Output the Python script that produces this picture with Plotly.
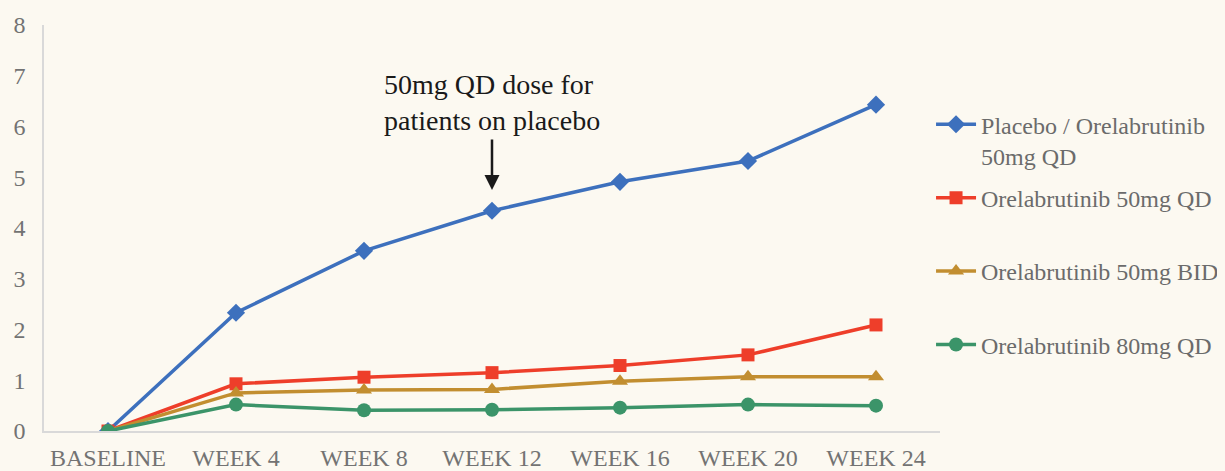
import plotly.graph_objects as go

categories = ["BASELINE", "WEEK 4", "WEEK 8", "WEEK 12", "WEEK 16", "WEEK 20", "WEEK 24"]
placebo_orela = [0, 2.33, 3.55, 4.34, 4.91, 5.32, 6.43]
orela_50_qd = [0, 0.93, 1.06, 1.15, 1.29, 1.50, 2.09]
orela_50_bid = [0, 0.75, 0.81, 0.82, 0.98, 1.07, 1.07]
orela_80_qd = [0, 0.52, 0.41, 0.42, 0.46, 0.52, 0.50]

series = [
    ("Placebo / Orelabrutinib<br>50mg QD", placebo_orela, "#3d70bd", "diamond", 14),
    ("Orelabrutinib 50mg QD<br> ", orela_50_qd, "#ee3e2a", "square", 13),
    ("Orelabrutinib 50mg BID<br> ", orela_50_bid, "#c28e30", "triangle-up", 14),
    ("Orelabrutinib 80mg QD<br> ", orela_80_qd, "#3b9469", "circle", 14),
]

fig = go.Figure()
for i, (name, vals, color, sym, size) in enumerate(series):
    fig.add_trace(go.Scatter(
        x=categories, y=vals, name=name, mode="lines+markers",
        line=dict(color=color, width=3.5),
        marker=dict(symbol=sym, size=size, color=color),
        legendgroup=str(i),
    ))

font_family = "Liberation Serif"

fig.add_annotation(
    x="WEEK 12", y=4.75, xref="x", yref="y",
    ax=0, ay=-52, axref="pixel", ayref="pixel",
    showarrow=True, arrowhead=2, arrowsize=1.2, arrowwidth=2.5,
    arrowcolor="#1a1a1a", text="",
)
fig.add_annotation(
    x="WEEK 12", y=6.47, xref="x", yref="y",
    text="50mg QD dose for<br>patients on placebo", showarrow=False,
    font=dict(family=font_family, size=28, color="#1a1a1a"),
    xanchor="center", yanchor="middle", align="left",
)

fig.update_layout(
    width=1217, height=463,
    margin=dict(l=36, r=285, t=17, b=40, autoexpand=False),
    paper_bgcolor="#fcf9f1",
    plot_bgcolor="rgba(0,0,0,0)",
    font=dict(family=font_family, size=24, color="#707070"),
    showlegend=True,
    legend=dict(
        x=0.99, xanchor="left", y=0.81, yanchor="top",
        bgcolor="rgba(0,0,0,0)",
        font=dict(family=font_family, size=24, color="#6b6b6b"),
        tracegroupgap=8, valign="top", itemwidth=40,
    ),
    xaxis=dict(
        type="category", range=[-0.5, 6.5], automargin=False,
        showgrid=False, showline=True, linecolor="#d9d9d9", linewidth=1.5,
        ticks="", ticklabelstandoff=4,
        tickfont=dict(family=font_family, size=24, color="#737373"),
        zeroline=False,
    ),
    yaxis=dict(
        range=[0, 8], dtick=1, showgrid=False, showline=True, automargin=False,
        linecolor="#d9d9d9", linewidth=1.5, zeroline=False,
        ticks="", ticklabelstandoff=12,
        tickfont=dict(family=font_family, size=24, color="#737373"),
    ),
)

fig.write_html("out.html", post_script="document.body.style.background='#fcf9f1';")
